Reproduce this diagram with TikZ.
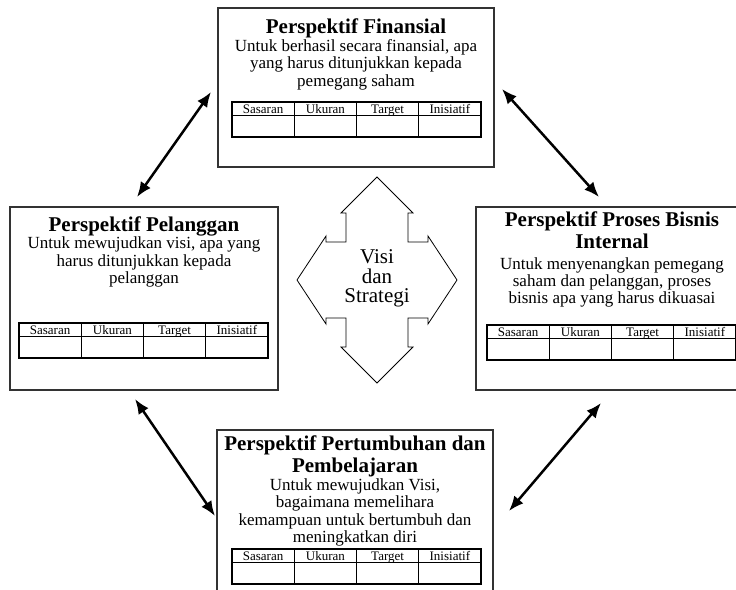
\documentclass[tikz,border=0pt]{standalone}
\usepackage{fontspec}
\setmainfont{Liberation Serif}
\usetikzlibrary{arrows.meta}

\begin{document}
\begin{tikzpicture}[x=1pt,y=-1pt,
    kotak/.style={draw=black!80, line width=1.3pt, inner sep=0pt},
    judul/.style={font=\fontsize{21}{22}\selectfont\bfseries, align=center, anchor=north, inner sep=0pt},
    isi/.style={font=\fontsize{17}{17.5}\selectfont, align=center, anchor=north, inner sep=0pt},
    kolom/.style={font=\fontsize{13}{13}\selectfont, inner sep=0pt, anchor=base},
    panah/.style={<->, >={Latex[length=15pt,width=12pt]}, line width=2.5pt}]
  \useasboundingbox (0,0) rectangle (736,589);
  \clip (0,0) rectangle (736,589);

  % kotak perspektif
  \node[kotak, minimum width=276pt, minimum height=159pt] (fin) at (356,87.5) {};
  \node[kotak, minimum width=268pt, minimum height=183pt] (pel) at (144,298.5) {};
  \node[kotak, minimum width=272pt, minimum height=183pt] (pro) at (612,298.5) {};
  \node[kotak, minimum width=276pt, minimum height=170pt] (tum) at (355,515) {};

  \node[judul] (finjudul) at (356,19) {Perspektif Finansial};
  \node[isi] (finisi) at (356,39) {Untuk berhasil secara finansial, apa\\yang harus ditunjukkan kepada\\pemegang saham};
  \node[judul] (peljudul) at (144,217) {Perspektif Pelanggan};
  \node[isi] (pelisi) at (144,237) {Untuk mewujudkan visi, apa yang\\harus ditunjukkan kepada\\pelanggan};
  \node[judul] (projudul) at (612,212) {Perspektif Proses Bisnis\\Internal};
  \node[isi] (proisi) at (612,257) {Untuk menyenangkan pemegang\\saham dan pelanggan, proses\\bisnis apa yang harus dikuasai};
  \node[judul] (tumjudul) at (355,436) {Perspektif Pertumbuhan dan\\Pembelajaran};
  \node[isi] (tumisi) at (355,478) {Untuk mewujudkan Visi,\\bagaimana memelihara\\kemampuan untuk bertumbuh dan\\meningkatkan diri};

  % tabel sasaran
  \foreach \tx/\ty in {232/102, 19/323, 487/325, 232/549}
  {
    \draw[line width=1.1pt] (\tx,\ty) rectangle ++(249,35);
    \draw[line width=1.1pt] (\tx,\ty+13.5) -- ++(249,0);
    \foreach \i in {1,2,3}
      \draw[line width=1.1pt] ({\tx+62.25*\i},\ty) -- ++(0,35);
    \foreach \c [count=\i from 0] in {Sasaran,Ukuran,Target,Inisiatif}
      \node[kolom] (kol-\tx-\i) at ({\tx+31.125+62.25*\i},{\ty+11}) {\c};
  }

  % visi dan strategi
  \coordinate (pusat) at (377,280);
  \node[font=\fontsize{21}{19.5}\selectfont, align=center, inner sep=0pt] (vs) at (377,278.5) {Visi\\dan\\Strategi};
  \draw[line width=0.8pt, shift={(pusat)}] (0,-103) -- (36,-67) -- (31,-67) -- (31,-38) -- (51,-38) -- (51,-44)
    -- (80,0) -- (51,44) -- (51,38) -- (31,38) -- (31,67) -- (36,67) -- (0,103) -- (-36,67) -- (-31,67)
    -- (-31,38) -- (-51,38) -- (-51,44) -- (-80,0) -- (-51,-44) -- (-51,-38) -- (-31,-38) -- (-31,-67)
    -- (-36,-67) -- cycle;

  % panah antar perspektif
  \coordinate (a1) at (137,197);
  \coordinate (a2) at (211,92);
  \coordinate (b1) at (502,89);
  \coordinate (b2) at (599,197);
  \coordinate (c1) at (135,399);
  \coordinate (c2) at (215,516);
  \coordinate (d1) at (601,403);
  \coordinate (d2) at (509,511);
  \draw[panah] (a1) -- (a2);
  \draw[panah] (b1) -- (b2);
  \draw[panah] (c1) -- (c2);
  \draw[panah] (d1) -- (d2);
\end{tikzpicture}
\end{document}
